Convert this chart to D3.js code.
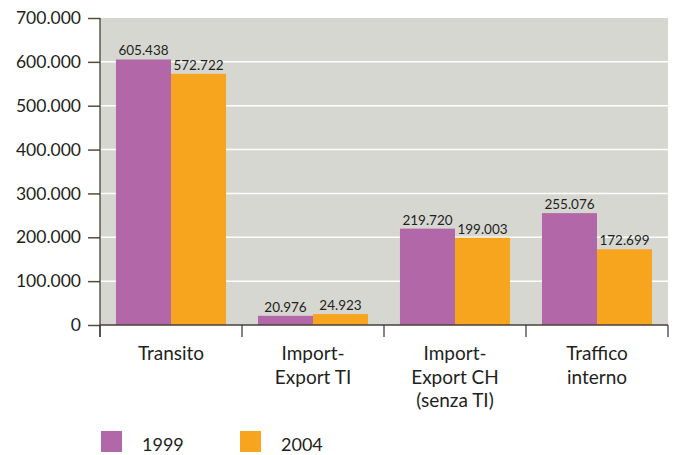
<!DOCTYPE html>
<html>
<head>
<meta charset="utf-8">
<script src="https://cdn.jsdelivr.net/npm/d3@7"></script>
<style>
  body { margin: 0; background: #fff; }
  text { font-family: Lato, "Open Sans", sans-serif; fill: #231f20; }
</style>
</head>
<body>
<svg id="chart" width="675" height="455"></svg>
<script>
const categories = [["Transito"], ["Import-", "Export TI"], ["Import-", "Export CH", "(senza TI)"], ["Traffico", "interno"]];
const years = ["1999", "2004"];
const values1999 = [605438, 20976, 219720, 255076];
const values2004 = [572722, 24923, 199003, 172699];
const yTicks = [0, 100000, 200000, 300000, 400000, 500000, 600000, 700000];
const colors = ["#b267a8", "#f7a41f"];

const width = 675, height = 455;
const margin = { top: 18, right: 7, bottom: 130, left: 100 };

const svg = d3.select("#chart");
const fmt = v => d3.format(",")(v).replace(/,/g, ".");

const x = d3.scaleBand()
    .domain(d3.range(categories.length))
    .range([margin.left, width - margin.right]);
const xInner = d3.scaleBand()
    .domain(years)
    .range([0, x.bandwidth()])
    .paddingOuter(0.29);
const y = d3.scaleLinear()
    .domain([0, 700000])
    .range([height - margin.bottom, margin.top]);

// panel background
svg.append("rect")
    .attr("x", margin.left).attr("y", margin.top)
    .attr("width", width - margin.right - margin.left)
    .attr("height", y(0) - margin.top)
    .attr("fill", "#d7d7d1");

// gridlines
svg.append("g").selectAll("line")
    .data(yTicks.slice(1, -1))
    .join("line")
    .attr("x1", margin.left).attr("x2", width - margin.right)
    .attr("y1", d => y(d)).attr("y2", d => y(d))
    .attr("stroke", "#fff").attr("stroke-width", 1.5);

// bars
const series = [values1999, values2004];
const groups = svg.append("g").selectAll("g")
    .data(categories.map((c, i) => i))
    .join("g")
    .attr("transform", i => `translate(${x(i)},0)`);

groups.selectAll("rect")
    .data(i => years.map((yr, k) => ({ yr, k, v: series[k][i] })))
    .join("rect")
    .attr("x", d => xInner(d.yr))
    .attr("width", xInner.bandwidth())
    .attr("y", d => y(d.v))
    .attr("height", d => y(0) - y(d.v))
    .attr("fill", d => colors[d.k]);

groups.selectAll("text.val")
    .data(i => years.map((yr, k) => ({ yr, k, v: series[k][i] })))
    .join("text")
    .attr("class", "val")
    .attr("x", d => xInner(d.yr) + xInner.bandwidth() / 2)
    .attr("y", d => y(d.v) - 4)
    .attr("text-anchor", "middle")
    .attr("font-size", 13.5)
    .text(d => fmt(d.v));

// y axis
const yAxis = svg.append("g")
    .attr("transform", `translate(${margin.left},0)`)
    .call(d3.axisLeft(y).tickValues(yTicks).tickFormat(fmt).tickSize(12).tickPadding(7));
yAxis.select(".domain").remove();
yAxis.selectAll(".tick line").attr("stroke", "#5a4a3a").attr("stroke-width", 1.5);
yAxis.selectAll(".tick text").attr("font-size", 17.5).attr("font-family", "Lato, sans-serif").attr("fill", "#231f20");
svg.append("line")
    .attr("x1", margin.left).attr("x2", margin.left)
    .attr("y1", margin.top).attr("y2", y(0) + 12)
    .attr("stroke", "#333").attr("stroke-width", 1.2);

// x axis
svg.append("line")
    .attr("x1", margin.left).attr("x2", width - margin.right)
    .attr("y1", y(0)).attr("y2", y(0))
    .attr("stroke", "#4a4038").attr("stroke-width", 1.5);
svg.append("g").selectAll("line")
    .data(d3.range(categories.length + 1))
    .join("line")
    .attr("x1", i => margin.left + i * x.bandwidth())
    .attr("x2", i => margin.left + i * x.bandwidth())
    .attr("y1", y(0)).attr("y2", y(0) + 12)
    .attr("stroke", "#333").attr("stroke-width", 1.2);

svg.append("g").selectAll("text")
    .data(categories)
    .join("text")
    .attr("text-anchor", "middle")
    .attr("font-size", 19)
    .attr("transform", (d, i) => `translate(${x(i) + x.bandwidth() / 2},${y(0) + 35})`)
    .selectAll("tspan")
    .data(d => d)
    .join("tspan")
    .attr("x", 0)
    .attr("y", (d, j) => j * 23.5)
    .text(d => d);

// legend
const legend = svg.append("g").attr("transform", "translate(101,431)");
legend.selectAll("g")
    .data(years)
    .join("g")
    .attr("transform", (d, i) => `translate(${i * 139},0)`)
    .call(g => g.append("rect").attr("width", 21).attr("height", 21).attr("fill", (d, i) => colors[i]))
    .call(g => g.append("text").attr("x", 41).attr("y", 20).attr("font-size", 18).text(d => d));
</script>
</body>
</html>
